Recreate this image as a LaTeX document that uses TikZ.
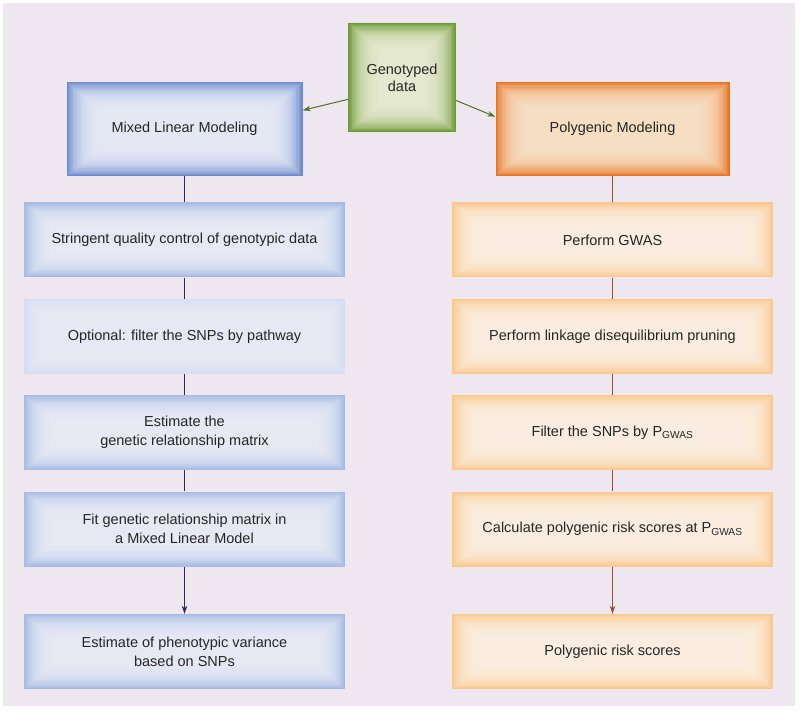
\documentclass[tikz,border=0pt]{standalone}
\usepackage{fontspec}
\setmainfont{Liberation Sans}
\usetikzlibrary{positioning, arrows.meta}

\tikzset{
  glowbox/.style 2 args={fill=#1, text=black!85, inner sep=2pt,
    path picture={\foreach \k in {1,...,24}
      \fill[#2, opacity=0.12]
        ([shift={(\k*1.3pt,\k*1.1pt)}]path picture bounding box.south west) rectangle
        ([shift={(-\k*1.3pt,-\k*1.1pt)}]path picture bounding box.north east);}},
  stepbox/.style 2 args={glowbox={#1}{#2}, minimum width=321pt, minimum height=75pt},
  navyline/.style={draw=navyline, line width=0.8pt},
  brownline/.style={draw=brownline, line width=0.8pt},
}

\begin{document}
\begin{tikzpicture}[x=1pt, y=-1pt, font=\fontsize{14.5}{19}\selectfont, align=center, >={Stealth[length=8pt, width=5.5pt]}]
        % Define colors
        \definecolor{panel}{RGB}{238,231,240}
        \definecolor{greenout}{RGB}{108,152,50}
        \definecolor{greenin}{RGB}{238,240,218}
        \definecolor{blueout}{RGB}{108,138,204}
        \definecolor{bluein}{RGB}{238,240,251}
        \definecolor{blueedge}{RGB}{166,186,226}
        \definecolor{bluepale}{RGB}{214,221,242}
        \definecolor{orangeout}{RGB}{230,118,38}
        \definecolor{orangein}{RGB}{253,230,206}
        \definecolor{orangeedge}{RGB}{250,200,142}
        \definecolor{orangelt}{RGB}{255,244,232}
        \definecolor{navyline}{RGB}{45,45,85}
        \definecolor{brownline}{RGB}{140,80,60}
        \definecolor{greenline}{RGB}{80,115,40}

        % Background
        \useasboundingbox[fill=white] (0,0) rectangle (800,712);
        \fill[panel] (3,3) rectangle (795,706);

        % Nodes
        \node[glowbox={greenout}{greenin}, minimum width=108pt, minimum height=109pt, font=\fontsize{14.5}{17}\selectfont] (geno) at (402,77.5) {Genotyped\\data};
        \node[glowbox={blueout}{bluein}, minimum width=236pt, minimum height=94pt] (mlm) at (184.5,129) {Mixed Linear Modeling};
        \node[glowbox={orangeout}{orangein}, minimum width=234pt, minimum height=94pt] (poly) at (612.5,129) {Polygenic Modeling};

        \node[stepbox={blueedge}{bluein}, below=26pt of mlm] (qc) {Stringent quality control of genotypic data};
        \node[stepbox={bluepale}{bluein}, below=21pt of qc] (pathway) {Optional: filter the SNPs by pathway};
        \node[stepbox={blueedge}{bluein}, below=21pt of pathway] (grm) {Estimate the\\genetic relationship matrix};
        \node[stepbox={blueedge}{bluein}, below=21pt of grm] (fit) {Fit genetic relationship matrix in\\a Mixed Linear Model};
        \node[stepbox={blueedge}{bluein}, below=47pt of fit] (variance) {Estimate of phenotypic variance\\based on SNPs};

        \node[stepbox={orangeedge}{orangelt}, below=26pt of poly] (gwas) {Perform GWAS};
        \node[stepbox={orangeedge}{orangelt}, below=21pt of gwas] (ldprune) {Perform linkage disequilibrium pruning};
        \node[stepbox={orangeedge}{orangelt}, below=21pt of ldprune] (pfilter) {Filter the SNPs by P\textsubscript{GWAS}};
        \node[stepbox={orangeedge}{orangelt}, below=21pt of pfilter] (prs) {Calculate polygenic risk scores at P\textsubscript{GWAS}};
        \node[stepbox={orangeedge}{orangelt}, below=47pt of prs] (scores) {Polygenic risk scores};

        % Edges
        \draw[->, draw=greenline, line width=1pt] (geno.202) -- (mlm.9);
        \draw[->, draw=greenline, line width=1pt] (geno.337) -- (poly.174);
        \foreach \a/\b in {mlm/qc, qc/pathway, pathway/grm, grm/fit} {
            \draw[navyline] (\a) -- (\b);
        }
        \draw[->, navyline] (fit) -- (variance);
        \foreach \a/\b in {poly/gwas, gwas/ldprune, ldprune/pfilter, pfilter/prs} {
            \draw[brownline] (\a) -- (\b);
        }
        \draw[->, brownline] (prs) -- (scores);
\end{tikzpicture}
\end{document}
